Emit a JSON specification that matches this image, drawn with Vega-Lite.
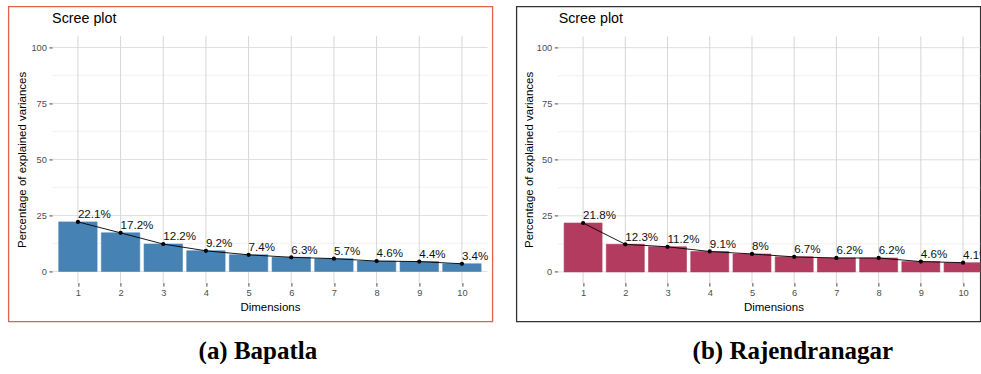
{
  "$schema": "https://vega.github.io/schema/vega-lite/v6.json",
  "background": "white",
  "padding": {"left": 7.4, "top": 5.4, "right": 0, "bottom": 0},
  "spacing": 22,
  "config": {
    "font": "Liberation Sans",
    "axis": {
      "grid": false,
      "domain": false,
      "tickColor": "#333333",
      "tickSize": 3.5,
      "tickWidth": 0.9,
      "labelColor": "#4D4D4D",
      "labelFontSize": 9.3,
      "labelFont": "Liberation Sans",
      "labelPadding": 2.5,
      "labelFlush": false,
      "labelOverlap": false,
      "titleFont": "Liberation Sans",
      "titleFontSize": 11.5,
      "titleFontWeight": "normal",
      "titleColor": "#000000"
    }
  },
  "datasets": {
    "bapatla": [
      {"dim": 1, "pct": 22.1},
      {"dim": 2, "pct": 17.2},
      {"dim": 3, "pct": 12.2},
      {"dim": 4, "pct": 9.2},
      {"dim": 5, "pct": 7.4},
      {"dim": 6, "pct": 6.3},
      {"dim": 7, "pct": 5.7},
      {"dim": 8, "pct": 4.6},
      {"dim": 9, "pct": 4.4},
      {"dim": 10, "pct": 3.4}
    ],
    "rajendranagar": [
      {"dim": 1, "pct": 21.8},
      {"dim": 2, "pct": 12.3},
      {"dim": 3, "pct": 11.2},
      {"dim": 4, "pct": 9.1},
      {"dim": 5, "pct": 8},
      {"dim": 6, "pct": 6.7},
      {"dim": 7, "pct": 6.2},
      {"dim": 8, "pct": 6.2},
      {"dim": 9, "pct": 4.6},
      {"dim": 10, "pct": 4.1}
    ],
    "gridMajor": [{"v": 0}, {"v": 25}, {"v": 50}, {"v": 75}, {"v": 100}],
    "gridMinor": [{"v": 12.5}, {"v": 37.5}, {"v": 62.5}, {"v": 87.5}]
  },
  "hconcat": [
    {
      "title": {"text": "(a) Bapatla", "orient": "bottom", "anchor": "middle", "offset": 37, "baseline": "alphabetic", "dx": 7.5, "font": "Liberation Serif", "fontSize": 25, "fontWeight": "bold", "color": "#000000"},
      "vconcat": [
        {
          "width": 484,
          "height": 315,
          "view": {"stroke": "#E2604D", "strokeWidth": 1.3},
          "title": {"text": "Scree plot", "anchor": "start", "frame": "group", "orient": "top", "offset": -31, "dx": 43.7, "baseline": "alphabetic", "font": "Liberation Sans", "fontSize": 14.3, "fontWeight": "normal", "color": "#000000"},
          "layer": [
            {
              "data": {"name": "gridMinor"},
              "mark": {"type": "rule", "color": "#EDEDED", "strokeWidth": 0.8},
              "encoding": {
                "y": {"field": "v", "type": "quantitative", "scale": {"domain": [-22.32, 118.3], "nice": false, "zero": false}},
                "x": {"datum": 0.4, "type": "quantitative", "scale": {"domain": [-0.629, 10.714], "nice": false, "zero": false, "padding": 0}},
                "x2": {"datum": 10.6}
              }
            },
            {
              "data": {"name": "gridMajor"},
              "mark": {"type": "rule", "color": "#DDDDDD", "strokeWidth": 1},
              "encoding": {
                "y": {"field": "v", "type": "quantitative"},
                "x": {"datum": 0.4, "type": "quantitative"},
                "x2": {"datum": 10.6}
              }
            },
            {
              "data": {"name": "bapatla"},
              "mark": {"type": "rule", "color": "#D6D6D6", "strokeWidth": 1},
              "encoding": {
                "x": {"field": "dim", "type": "quantitative"},
                "y": {"datum": -5, "type": "quantitative"},
                "y2": {"datum": 105}
              }
            },
            {
              "data": {"name": "bapatla"},
              "mark": {"type": "bar", "orient": "vertical", "width": 38.4, "color": "#4682B4", "stroke": "#4682B4", "strokeWidth": 0.6},
              "encoding": {
                "x": {
                  "field": "dim", "type": "quantitative",
                  "axis": {"values": [1, 2, 3, 4, 5, 6, 7, 8, 9, 10], "format": "d", "offset": -38.8, "title": "Dimensions", "titleX": 261.5, "titleY": 25, "titleBaseline": "middle", "titleAlign": "center"}
                },
                "y": {
                  "field": "pct", "type": "quantitative",
                  "axis": {"values": [0, 25, 50, 75, 100], "offset": -44, "title": "Percentage of explained variances", "titleX": -30.3, "titleY": 153, "titleAngle": 270, "titleAlign": "center", "titleBaseline": "middle"}
                },
                "y2": {"datum": 0}
              }
            },
            {
              "data": {"name": "bapatla"},
              "mark": {"type": "line", "color": "#000000", "strokeWidth": 0.9},
              "encoding": {
                "x": {"field": "dim", "type": "quantitative"},
                "y": {"field": "pct", "type": "quantitative"}
              }
            },
            {
              "data": {"name": "bapatla"},
              "mark": {"type": "circle", "color": "#000000", "size": 18, "opacity": 1},
              "encoding": {
                "x": {"field": "dim", "type": "quantitative"},
                "y": {"field": "pct", "type": "quantitative"}
              }
            },
            {
              "data": {"name": "bapatla"},
              "transform": [{"calculate": "datum.pct + '%'", "as": "label"}],
              "mark": {"type": "text", "align": "left", "baseline": "alphabetic", "dy": -3.7, "fontSize": 11.6, "color": "#111111"},
              "encoding": {
                "x": {"field": "dim", "type": "quantitative"},
                "y": {"field": "pct", "type": "quantitative"},
                "text": {"field": "label"}
              }
            }
          ]
        }
      ]
    },
    {
      "title": {"text": "(b) Rajendranagar", "orient": "bottom", "anchor": "middle", "offset": 37, "baseline": "alphabetic", "dx": 44.5, "font": "Liberation Serif", "fontSize": 25, "fontWeight": "bold", "color": "#000000"},
      "vconcat": [
        {
          "width": 464,
          "height": 315,
          "view": {"stroke": "#333333", "strokeWidth": 1.3},
          "title": {"text": "Scree plot", "anchor": "start", "frame": "group", "orient": "top", "offset": -31, "dx": 42.3, "baseline": "alphabetic", "font": "Liberation Sans", "fontSize": 14.3, "fontWeight": "normal", "color": "#000000"},
          "layer": [
            {
              "data": {"name": "gridMinor"},
              "mark": {"type": "rule", "color": "#EDEDED", "strokeWidth": 0.8, "clip": true},
              "encoding": {
                "y": {"field": "v", "type": "quantitative", "scale": {"domain": [-22.08, 118.42], "nice": false, "zero": false}},
                "x": {"datum": 0.4, "type": "quantitative", "scale": {"domain": [-0.5798, 10.41], "nice": false, "zero": false, "padding": 0}},
                "x2": {"datum": 10.6}
              }
            },
            {
              "data": {"name": "gridMajor"},
              "mark": {"type": "rule", "color": "#DDDDDD", "strokeWidth": 1, "clip": true},
              "encoding": {
                "y": {"field": "v", "type": "quantitative"},
                "x": {"datum": 0.4, "type": "quantitative"},
                "x2": {"datum": 10.6}
              }
            },
            {
              "data": {"name": "rajendranagar"},
              "mark": {"type": "rule", "color": "#D6D6D6", "strokeWidth": 1, "clip": true},
              "encoding": {
                "x": {"field": "dim", "type": "quantitative"},
                "y": {"datum": -5, "type": "quantitative"},
                "y2": {"datum": 105}
              }
            },
            {
              "data": {"name": "rajendranagar"},
              "mark": {"type": "bar", "orient": "vertical", "width": 38, "color": "#B33B5F", "stroke": "#B33B5F", "strokeWidth": 0.6, "clip": true},
              "encoding": {
                "x": {
                  "field": "dim", "type": "quantitative",
                  "axis": {"values": [1, 2, 3, 4, 5, 6, 7, 8, 9, 10], "format": "d", "offset": -38.8, "title": "Dimensions", "titleX": 257, "titleY": 25, "titleBaseline": "middle", "titleAlign": "center"}
                },
                "y": {
                  "field": "pct", "type": "quantitative",
                  "axis": {"values": [0, 25, 50, 75, 100], "offset": -41.4, "title": "Percentage of explained variances", "titleX": -28.1, "titleY": 153, "titleAngle": 270, "titleAlign": "center", "titleBaseline": "middle"}
                },
                "y2": {"datum": 0}
              }
            },
            {
              "data": {"name": "rajendranagar"},
              "mark": {"type": "line", "color": "#000000", "strokeWidth": 0.9, "clip": true},
              "encoding": {
                "x": {"field": "dim", "type": "quantitative"},
                "y": {"field": "pct", "type": "quantitative"}
              }
            },
            {
              "data": {"name": "rajendranagar"},
              "mark": {"type": "circle", "color": "#000000", "size": 18, "opacity": 1, "clip": true},
              "encoding": {
                "x": {"field": "dim", "type": "quantitative"},
                "y": {"field": "pct", "type": "quantitative"}
              }
            },
            {
              "data": {"name": "rajendranagar"},
              "transform": [{"calculate": "datum.pct + '%'", "as": "label"}],
              "mark": {"type": "text", "align": "left", "baseline": "alphabetic", "dy": -3.7, "fontSize": 11.6, "color": "#111111", "clip": true},
              "encoding": {
                "x": {"field": "dim", "type": "quantitative"},
                "y": {"field": "pct", "type": "quantitative"},
                "text": {"field": "label"}
              }
            }
          ]
        }
      ]
    }
  ]
}
